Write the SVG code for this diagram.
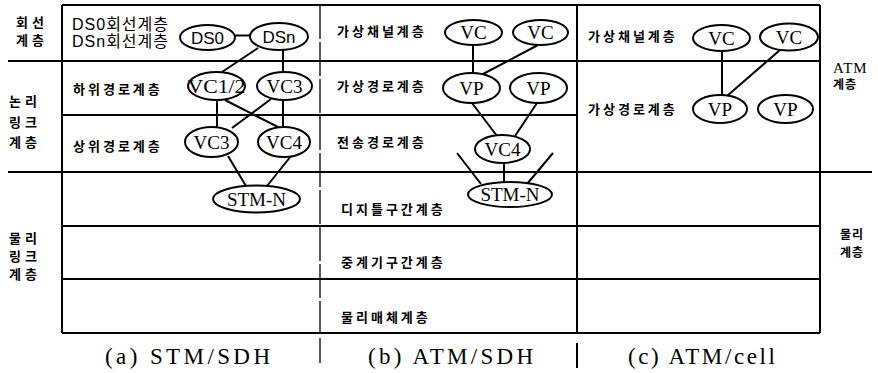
<svg xmlns="http://www.w3.org/2000/svg" width="878" height="373" viewBox="0 0 878 373">
<style>
.frame{stroke:#000;stroke-width:2;fill:none}
.thin{stroke:#000;stroke-width:1.3;fill:none}
.node ellipse{fill:#fff;stroke:#000;stroke-width:2}
.nl{font-family:"Liberation Serif",serif;font-size:19px;text-anchor:middle;fill:#000}
.ns{font-family:"Liberation Sans",sans-serif;font-size:17px;text-anchor:middle;fill:#000}
.kr{font-family:"Noto Sans CJK KR",sans-serif;font-size:13px;letter-spacing:3px;font-weight:bold;fill:#000}
.kb{font-family:"Noto Sans CJK KR",sans-serif;font-size:13px;font-weight:bold;letter-spacing:4px;fill:#000}
.kbs{font-family:"Noto Sans CJK KR",sans-serif;font-size:12px;font-weight:bold;letter-spacing:1px;fill:#000}
.mix{font-family:"Liberation Sans","Noto Sans CJK KR",sans-serif;font-size:16px;letter-spacing:1px;fill:#000}
.cap{font-family:"Liberation Serif",serif;font-size:23px;fill:#000}
.atm{font-family:"Liberation Serif",serif;font-size:15px;letter-spacing:1px;fill:#000}
.conn line{stroke:#000;stroke-width:2}
</style>

<g id="frame">
<path class="frame" d="M62,5 H820 M62,5 V333 M820,5 V333 M62,333 H820 M8,61 H820 M62,115 H577 M8,172 H872 M62,226 H820 M62,279 H820 M577,5 V333 M577,343 V368"/>
<path class="thin" d="M320,5 V333" stroke-dasharray="34 3"/>
<path class="thin" d="M320,338 V363"/>
</g>

<g id="layer-labels">
<text class="kb" x="16" y="26.5">회선</text>
<text class="kb" x="16" y="45">계층</text>
<text class="kb" x="9" y="106">논리</text>
<text class="kb" x="9" y="126.5">링크</text>
<text class="kb" x="9" y="147">계층</text>
<text class="kb" x="9" y="243">물리</text>
<text class="kb" x="9" y="261">링크</text>
<text class="kb" x="9" y="279">계층</text>
<text class="atm" x="833" y="73">ATM</text>
<text class="kbs" x="833" y="89">계층</text>
<text class="kbs" x="840" y="239">물리</text>
<text class="kbs" x="840" y="257">계층</text>

<text class="mix" x="72" y="30">DS0회선계층</text>
<text class="mix" x="72" y="47">DSn회선계층</text>
<text class="kr" x="73" y="94">하위경로계층</text>
<text class="kr" x="73" y="151">상위경로계층</text>

<text class="kr" x="337" y="36">가상채널계층</text>
<text class="kr" x="337" y="91">가상경로계층</text>
<text class="kr" x="337" y="147">전송경로계층</text>
<text class="kr" x="341" y="214">디지틀구간계층</text>
<text class="kr" x="341" y="267">중계기구간계층</text>
<text class="kr" x="341" y="322">물리매체계층</text>

<text class="kr" x="588" y="41">가상채널계층</text>
<text class="kr" x="588" y="114">가상경로계층</text>

<text class="cap" x="105" y="364" textLength="165" lengthAdjust="spacing">(a) STM/SDH</text>
<text class="cap" x="368" y="364" textLength="165" lengthAdjust="spacing">(b) ATM/SDH</text>
<text class="cap" x="628" y="364" textLength="147" lengthAdjust="spacing">(c) ATM/cell</text>
</g>

<g id="connectors" class="conn">
<line x1="235" y1="35.5" x2="250" y2="35.5"/>
<line x1="258" y1="48" x2="222" y2="72"/>
<line x1="283" y1="50" x2="283" y2="72"/>
<line x1="217" y1="100" x2="217" y2="127"/>
<line x1="283" y1="100" x2="283" y2="127"/>
<line x1="225" y1="100" x2="280" y2="128"/>
<line x1="271" y1="99" x2="232" y2="128"/>
<line x1="228" y1="156" x2="246" y2="186"/>
<line x1="291" y1="156" x2="267" y2="186"/>
<line x1="473" y1="45" x2="473" y2="73"/>
<line x1="538" y1="45" x2="483" y2="74"/>
<line x1="472" y1="103" x2="497" y2="136"/>
<line x1="537" y1="103" x2="515" y2="136"/>
<line x1="504" y1="163" x2="504" y2="182"/>
<line x1="457" y1="153" x2="481" y2="184"/>
<line x1="553" y1="153" x2="527" y2="184"/>
<line x1="722" y1="51" x2="722" y2="95"/>
<line x1="780" y1="50" x2="727" y2="96"/>
</g>

<g id="a-DS0" class="node"><ellipse cx="207.5" cy="37.5" rx="27.5" ry="12.5"/><text class="ns" x="207.5" y="43.5">DS0</text></g>
<g id="a-DSn" class="node"><ellipse cx="279" cy="36.5" rx="29" ry="13.5"/><text class="ns" x="279" y="42.5">DSn</text></g>
<g id="a-VC12" class="node"><ellipse cx="216.5" cy="86" rx="28.5" ry="14"/><text class="nl" x="216.5" y="92.5" textLength="58" lengthAdjust="spacingAndGlyphs">VC1/2</text></g>
<g id="a-VC3-low" class="node"><ellipse cx="284.5" cy="86" rx="27.5" ry="14"/><text class="nl" x="284.5" y="92.5">VC3</text></g>
<g id="a-VC3-high" class="node"><ellipse cx="211.5" cy="142" rx="26.5" ry="15"/><text class="nl" x="211.5" y="148.5">VC3</text></g>
<g id="a-VC4" class="node"><ellipse cx="284" cy="142" rx="26" ry="15"/><text class="nl" x="284" y="148.5">VC4</text></g>
<g id="a-STMN" class="node"><ellipse cx="256.5" cy="199" rx="43.5" ry="13.5"/><text class="nl" x="256.5" y="205.5">STM-N</text></g>

<g id="b-VC1" class="node"><ellipse cx="473.5" cy="32.5" rx="28.5" ry="12.5"/><text class="nl" x="473.5" y="39">VC</text></g>
<g id="b-VC2" class="node"><ellipse cx="540.5" cy="32.5" rx="27.5" ry="12.5"/><text class="nl" x="540.5" y="39">VC</text></g>
<g id="b-VP1" class="node"><ellipse cx="471.5" cy="88" rx="28.5" ry="15"/><text class="nl" x="471.5" y="94.5">VP</text></g>
<g id="b-VP2" class="node"><ellipse cx="538.5" cy="88" rx="28.5" ry="15"/><text class="nl" x="538.5" y="94.5">VP</text></g>
<g id="b-VC4" class="node"><ellipse cx="502.5" cy="149" rx="27.5" ry="14"/><text class="nl" x="502.5" y="155.5">VC4</text></g>
<g id="b-STMN" class="node"><ellipse cx="510" cy="194.5" rx="42" ry="12.5"/><text class="nl" x="510" y="201">STM-N</text></g>

<g id="c-VC1" class="node"><ellipse cx="721.5" cy="38" rx="28.5" ry="13"/><text class="nl" x="721.5" y="44.5">VC</text></g>
<g id="c-VC2" class="node"><ellipse cx="789" cy="37" rx="29" ry="13.5"/><text class="nl" x="789" y="43.5">VC</text></g>
<g id="c-VP1" class="node"><ellipse cx="720" cy="109" rx="27" ry="14"/><text class="nl" x="720" y="115.5">VP</text></g>
<g id="c-VP2" class="node"><ellipse cx="785.5" cy="109" rx="27.5" ry="14"/><text class="nl" x="785.5" y="115.5">VP</text></g>
</svg>
